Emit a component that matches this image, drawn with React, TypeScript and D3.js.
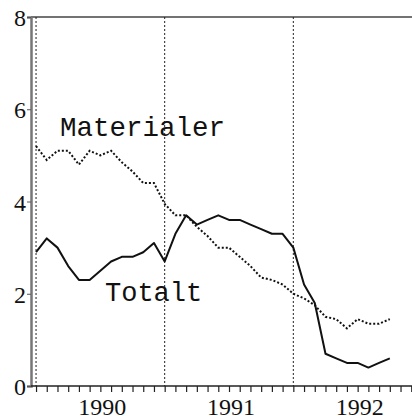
import React, { useEffect, useRef } from 'react';
import * as d3 from 'd3';

// monthly observations, starting January 1990
const totalt = [
  2.9, 3.2, 3.0, 2.6, 2.3, 2.3, 2.5, 2.7, 2.8, 2.8, 2.9, 3.1,
  2.7, 3.3, 3.7, 3.5, 3.6, 3.7, 3.6, 3.6, 3.5, 3.4, 3.3, 3.3,
  3.0, 2.2, 1.8, 0.7, 0.6, 0.5, 0.5, 0.4, 0.5, 0.6,
];
const materialer = [
  5.2, 4.9, 5.1, 5.1, 4.8, 5.1, 5.0, 5.1, 4.85, 4.65, 4.4, 4.4,
  3.95, 3.7, 3.7, 3.45, 3.25, 3.0, 3.0, 2.8, 2.6, 2.35, 2.3, 2.2,
  2.0, 1.9, 1.75, 1.5, 1.45, 1.25, 1.45, 1.35, 1.35, 1.45,
];
const yTicks = [0, 2, 4, 6, 8];
const yearLabels = ['1990', '1991', '1992'];
const yearBreaks = [0, 12, 24]; // month index of dotted lines

const W = 412;
const H = 416;

const App: React.FC = () => {
  const svgRef = useRef<SVGSVGElement>(null);

  useEffect(() => {
    if (!svgRef.current) return;
    const svg = d3.select(svgRef.current);
    svg.selectAll('*').remove();

    const x = d3.scaleLinear().domain([-0.47, 35.07]).range([31, 412]);
    const y = d3.scaleLinear().domain([0, 8]).range([386, 17]);

    // frame: top line
    svg.append('line')
      .attr('x1', x(-0.47)).attr('x2', W)
      .attr('y1', y(8)).attr('y2', y(8))
      .attr('stroke', '#444').attr('stroke-width', 1.5);

    // y axis
    const yAxis = svg.append('g')
      .attr('transform', `translate(${x(-0.47)},0)`)
      .call(d3.axisLeft(y).tickValues(yTicks).tickSize(4).tickFormat(d3.format('d')));
    yAxis.select('.domain').attr('stroke', '#777').attr('stroke-width', 2.5);
    yAxis.selectAll('.tick line').attr('stroke', '#555');
    yAxis.selectAll('text')
      .attr('font-family', '"Liberation Serif", "Times New Roman", serif')
      .attr('font-size', 24)
      .attr('fill', '#111')
      .attr('dx', '2')
      .attr('dy', '0.36em');

    // x axis, monthly ticks
    const months = d3.range(0, 36);
    const xAxis = svg.append('g')
      .attr('transform', `translate(0,${y(0)})`)
      .call(d3.axisBottom(x).tickValues(months).tickSize(6).tickSizeOuter(0).tickFormat(() => ''));
    xAxis.select('.domain').attr('stroke', '#222').attr('stroke-width', 1.5)
      .attr('d', `M${x(-0.47)},0H${W}`);
    xAxis.selectAll('.tick line').attr('stroke', '#222').attr('stroke-width', 1.2);

    // year labels centred within each year
    svg.selectAll('.year')
      .data(yearLabels)
      .enter()
      .append('text')
      .attr('x', (d, i) => x(yearBreaks[i] + 6) + 2)
      .attr('y', 415)
      .attr('text-anchor', 'middle')
      .attr('font-family', '"Liberation Serif", "Times New Roman", serif')
      .attr('font-size', 24)
      .attr('fill', '#111')
      .text((d) => d);

    // dotted year separators
    svg.selectAll('.sep')
      .data(yearBreaks)
      .enter()
      .append('line')
      .attr('x1', (d) => x(d)).attr('x2', (d) => x(d))
      .attr('y1', y(8)).attr('y2', y(0))
      .attr('stroke', '#222')
      .attr('stroke-width', 1)
      .attr('stroke-dasharray', '2,2');

    const line = d3.line<number>()
      .x((d, i) => x(i))
      .y((d) => y(d));

    svg.append('path')
      .datum(materialer)
      .attr('fill', 'none')
      .attr('stroke', '#111')
      .attr('stroke-width', 2)
      .attr('stroke-dasharray', '2,2')
      .attr('d', line);

    svg.append('path')
      .datum(totalt)
      .attr('fill', 'none')
      .attr('stroke', '#111')
      .attr('stroke-width', 2)
      .attr('stroke-linejoin', 'round')
      .attr('d', line);

    // series labels
    const mono = '"Liberation Mono", "Courier New", monospace';
    svg.append('text')
      .attr('x', 60).attr('y', 136)
      .attr('font-family', mono).attr('font-size', 27.5).attr('fill', '#111')
      .text('Materialer');
    svg.append('text')
      .attr('x', 105).attr('y', 301)
      .attr('font-family', mono).attr('font-size', 27).attr('fill', '#111')
      .text('Totalt');
  }, []);

  return (
    <svg
      ref={svgRef}
      width={W}
      height={H}
      style={{ position: 'absolute', left: 0, top: 0, background: '#fff' }}
    />
  );
};

export default App;
